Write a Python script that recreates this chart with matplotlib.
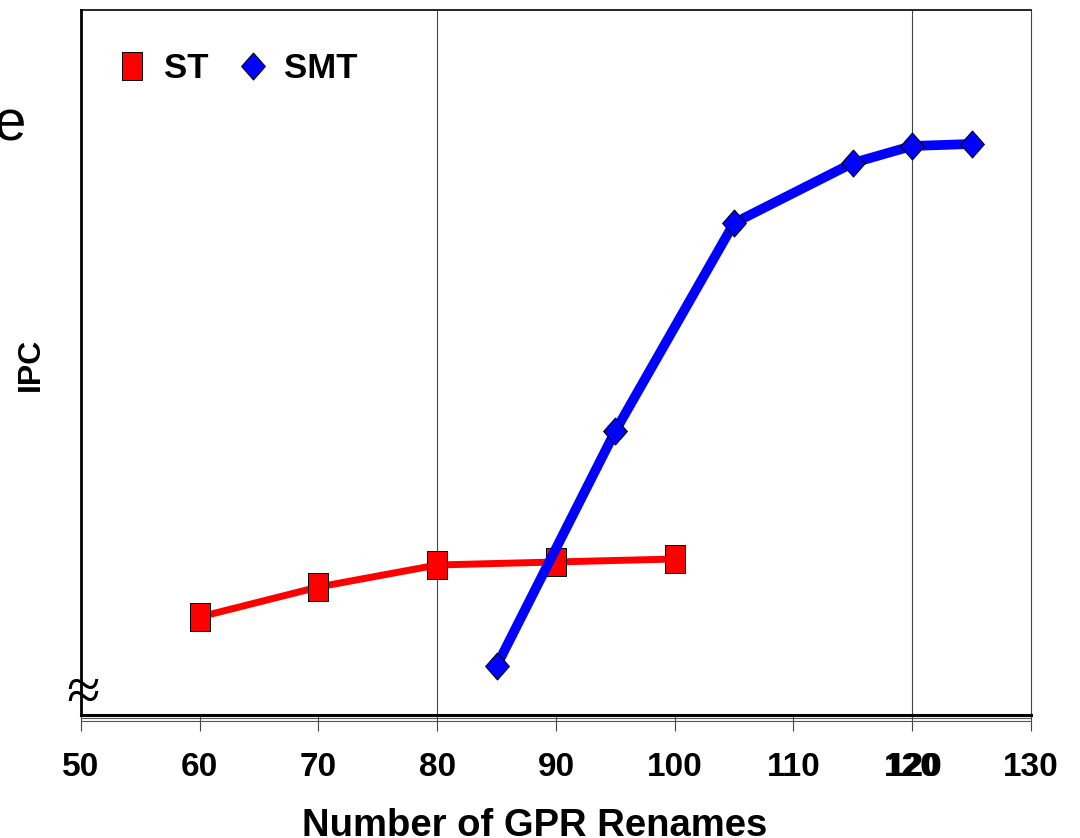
import matplotlib
matplotlib.use('Agg')
import matplotlib.pyplot as plt
import matplotlib.transforms as mtransforms
from matplotlib.lines import Line2D

plt.rcParams['font.family'] = ['Liberation Sans', 'DejaVu Sans']

# data (y in arbitrary IPC units, axis is broken at the bottom)
st_x = [60, 70, 80, 90, 100]
st_ipc = [0.98, 1.28, 1.50, 1.53, 1.56]
smt_x = [85, 95, 105, 115, 120, 125]
smt_ipc = [0.49, 2.84, 4.92, 5.52, 5.69, 5.71]
xticks = [50, 60, 70, 80, 90, 100, 110, 120, 130]
gridlines = [80, 120]

# tall rectangle and diamond markers like the original
rect = [(-0.37, -0.5), (0.37, -0.5), (0.37, 0.5), (-0.37, 0.5), (-0.37, -0.5)]
diam = [(0, 0.5), (0.44, 0), (0, -0.5), (-0.44, 0), (0, 0.5)]

fig = plt.figure(figsize=(10.8, 8.38), dpi=100)
ax = fig.add_axes([0.075, 0.1468, 0.8796, 0.8413])

for g in gridlines:
    ax.axvline(g, color='#444444', lw=0.8, zorder=1)

mk = dict(markersize=19.5, markeredgecolor='black', markeredgewidth=0.7)
ax.plot(st_x, st_ipc, color='#ff0000', lw=5, marker=rect,
        markerfacecolor='#ff0000', zorder=3, **mk)
ax.plot(smt_x, smt_ipc, color='#0000ff', lw=7, marker=diam,
        markerfacecolor='#0000ff', zorder=4, **mk)

ax.set_xlim(50, 130)
ax.set_ylim(0, 7.05)
ax.set_xticks(xticks)
ax.set_xticklabels([str(t) for t in xticks], fontsize=24, fontweight='bold')
ax.tick_params(axis='x', direction='out', length=11.5, width=0.8, color='#444444', pad=15)
ax.set_yticks([])

ax.set_xlabel('Number of GPR Renames', fontsize=27.5, fontweight='bold', va='center')
ax.xaxis.set_label_coords(0.478, -0.157)
ax.set_ylabel('IPC', fontsize=23, fontweight='bold', va='center')
ax.yaxis.set_label_coords(-0.053, 0.497)

ax.spines['left'].set_linewidth(2)
ax.spines['top'].set_linewidth(1.2)
ax.spines['right'].set_linewidth(0.8)
ax.spines['right'].set_color('#444444')
ax.spines['bottom'].set_linewidth(2.2)

# double line under the x axis
for off in (-0.0045, -0.0088):
    ax.plot([0, 1], [off, off], transform=ax.transAxes, color='#555555',
            lw=0.8, clip_on=False)

# axis break mark
ax.text(0.002, 0.028, '\u2248', transform=ax.transAxes, fontsize=44,
        family='Liberation Serif', ha='center', va='center')

# the 120 label is printed twice, slightly shifted
fig.canvas.draw()
bb = ax.get_xticklabels()[xticks.index(120)].get_window_extent()
fig.text((bb.x0 + bb.x1) / 2 + 3, (bb.y0 + bb.y1) / 2, '120',
         transform=mtransforms.IdentityTransform(),
         fontsize=24, fontweight='bold', ha='center', va='center')

# cut-off text from the neighbouring figure on the left edge
fig.text(-0.006, 0.85, 'e', fontsize=42, ha='left', va='center')

handles = [
    Line2D([], [], ls='none', marker=rect, markerfacecolor='#ff0000', **mk),
    Line2D([], [], ls='none', marker=diam, markerfacecolor='#0000ff', **mk),
]
ax.legend(handles, ['ST', 'SMT'], loc='upper left', bbox_to_anchor=(0.003, 0.985),
          ncol=2, frameon=False, prop={'weight': 'bold', 'size': 25},
          handlelength=1.0, handletextpad=0.4, columnspacing=0.78)

fig.savefig('out.png', dpi=100)
